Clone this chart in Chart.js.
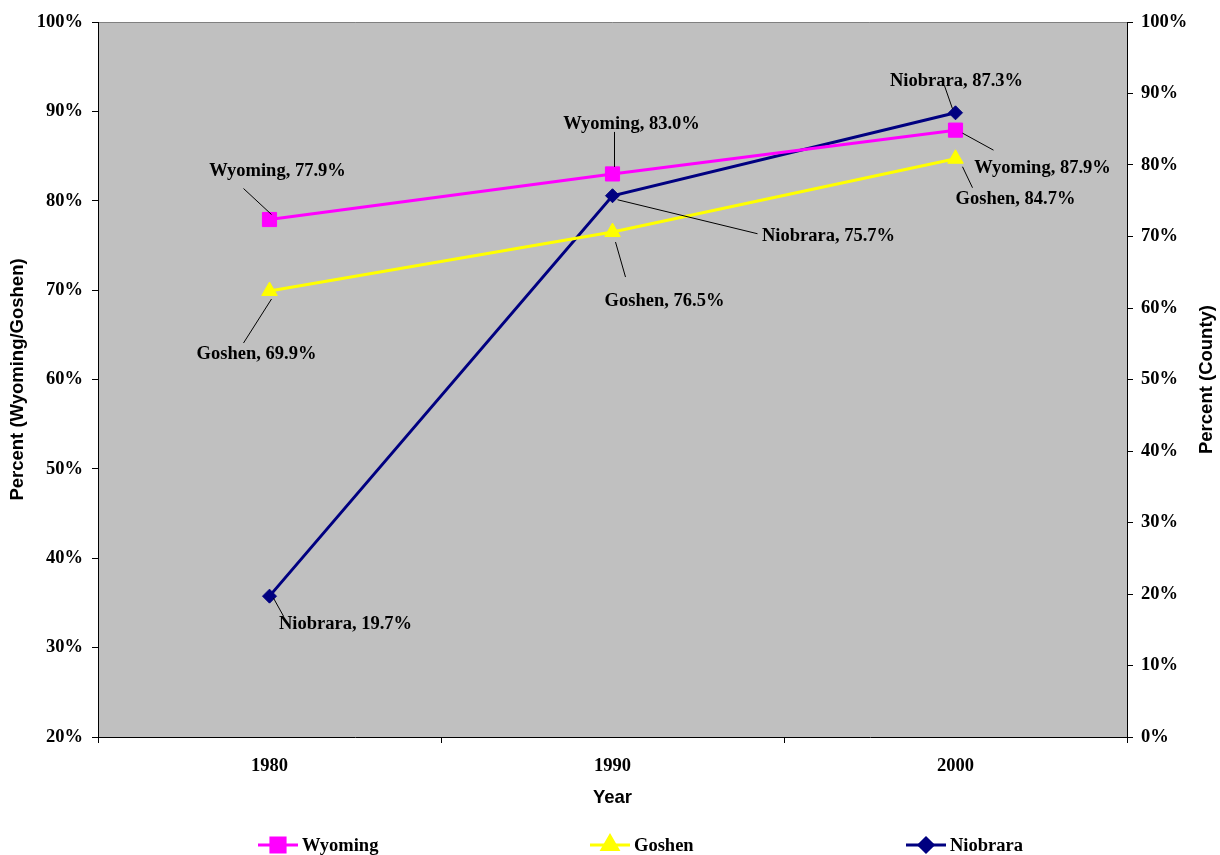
<!DOCTYPE html>
<html>
<head>
<meta charset="utf-8">
<script src="https://cdn.jsdelivr.net/npm/chart.js@4"></script>
<style>
  html, body { margin: 0; padding: 0; background: #fff; }
  #wrap { width: 1220px; height: 855px; }
</style>
</head>
<body>
<div id="wrap"><canvas id="chart" width="1220" height="855"></canvas></div>
<script>
// data
const years = ["1980", "1990", "2000"];
const wyoming = [77.9, 83.0, 87.9];
const goshen = [69.9, 76.5, 84.7];
const niobrara = [19.7, 75.7, 87.3];

// label placement: text centre offset and leader line, relative to the point
const labelPos = {
    Wyoming: [
        { dx: 8, dy: -48, line: [-26, -31, 2, -5] },
        { dx: 19, dy: -50, line: [2, -42, 2, -7] },
        { dx: 87, dy: 38, line: [7, 3, 38, 20] }
    ],
    Goshen: [
        { dx: -13, dy: 63, line: [2, 8, -26, 52] },
        { dx: 52, dy: 69, line: [3, 10, 13, 45] },
        { dx: 60, dy: 40, line: [7, 8, 17, 29] }
    ],
    Niobrara: [
        { dx: 76, dy: 28, line: [4, 2, 14, 20] },
        { dx: 216, dy: 40, line: [5, 4, 145, 38] },
        { dx: 1, dy: -32, line: [-11, -27, -3, -4] }
    ]
};

const serif = "'Liberation Serif', 'Times New Roman', serif";
const sans = "'Liberation Sans', Arial, sans-serif";
const pct = v => v + '%';

// grey plot area and the thin grey top border
const plotBg = {
    id: 'plotBg',
    beforeDraw(chart) {
        const { ctx, chartArea: a } = chart;
        ctx.save();
        ctx.fillStyle = '#C0C0C0';
        ctx.fillRect(a.left, a.top, a.right - a.left, a.bottom - a.top);
        ctx.strokeStyle = '#808080';
        ctx.lineWidth = 1;
        ctx.beginPath();
        ctx.moveTo(a.left, a.top + 0.5);
        ctx.lineTo(a.right, a.top + 0.5);
        ctx.stroke();
        ctx.restore();
    }
};

// right axis title reads bottom-to-top like the left one
const rightTitle = {
    id: 'rightTitle',
    afterDraw(chart) {
        const { ctx, chartArea: a } = chart;
        ctx.save();
        ctx.translate(1207, (a.top + a.bottom) / 2);
        ctx.rotate(-Math.PI / 2);
        ctx.font = "bold 18.5px " + sans;
        ctx.fillStyle = '#000';
        ctx.textAlign = 'center';
        ctx.textBaseline = 'middle';
        ctx.fillText('Percent (County)', 0, 0);
        ctx.restore();
    }
};

// data labels with leader lines
const dataLabels = {
    id: 'dataLabels',
    afterDatasetsDraw(chart) {
        const ctx = chart.ctx;
        ctx.save();
        ctx.font = "bold 18.5px " + serif;
        ctx.textAlign = 'center';
        ctx.textBaseline = 'middle';
        chart.data.datasets.forEach((ds, di) => {
            const meta = chart.getDatasetMeta(di);
            meta.data.forEach((pt, i) => {
                const p = labelPos[ds.label][i];
                ctx.strokeStyle = '#000';
                ctx.lineWidth = 1;
                ctx.beginPath();
                ctx.moveTo(pt.x + p.line[0], pt.y + p.line[1]);
                ctx.lineTo(pt.x + p.line[2], pt.y + p.line[3]);
                ctx.stroke();
                ctx.fillStyle = '#000';
                ctx.fillText(ds.label + ', ' + ds.data[i].toFixed(1) + '%', pt.x + p.dx, pt.y + p.dy);
            });
        });
        ctx.restore();
    }
};

// legend at the bottom: line with marker, then name
const bottomLegend = {
    id: 'bottomLegend',
    afterDraw(chart) {
        const ctx = chart.ctx;
        const xs = [258, 590, 906];
        const y = 845;
        ctx.save();
        chart.data.datasets.forEach((ds, i) => {
            const x = xs[i];
            ctx.strokeStyle = ds.borderColor;
            ctx.lineWidth = 3;
            ctx.beginPath();
            ctx.moveTo(x, y);
            ctx.lineTo(x + 40, y);
            ctx.stroke();
            ctx.fillStyle = ds.pointBackgroundColor;
            ctx.strokeStyle = ds.pointBackgroundColor;
            Chart.helpers.drawPoint(ctx, {
                pointStyle: ds.pointStyle,
                radius: ds.pointRadius,
                borderWidth: 1
            }, x + 20, y);
            ctx.fillStyle = '#000';
            ctx.font = "bold 18.5px " + serif;
            ctx.textAlign = 'left';
            ctx.textBaseline = 'middle';
            ctx.fillText(ds.label, x + 44, y + 1);
        });
        ctx.restore();
    }
};

function series(label, data, color, style, radius, axis) {
    return {
        label: label,
        data: data,
        yAxisID: axis,
        borderColor: color,
        backgroundColor: color,
        pointBackgroundColor: color,
        pointBorderColor: color,
        pointBorderWidth: 1,
        pointStyle: style,
        pointRadius: radius,
        borderWidth: 3,
        tension: 0,
        fill: false
    };
}

new Chart(document.getElementById('chart').getContext('2d'), {
    type: 'line',
    data: {
        labels: years,
        datasets: [
            series('Wyoming', wyoming, '#FF00FF', 'rect', 10, 'y'),
            series('Goshen', goshen, '#FFFF00', 'triangle', 9, 'y'),
            series('Niobrara', niobrara, '#000080', 'rectRot', 7, 'y1')
        ]
    },
    options: {
        responsive: false,
        animation: false,
        layout: { padding: { top: 22, bottom: 38, left: 0, right: 0 } },
        plugins: {
            legend: { display: false },
            tooltip: { enabled: false }
        },
        scales: {
            x: {
                offset: true,
                afterFit: s => { s.height = 80; },
                grid: { display: true, offset: true, drawOnChartArea: false, tickLength: 6, color: '#000' },
                border: { color: '#000', width: 1 },
                ticks: { color: '#000', padding: 12, font: { family: serif, size: 18.5, weight: 'bold' } },
                title: {
                    display: true, text: 'Year', color: '#000',
                    padding: { top: 0, bottom: 8 },
                    font: { family: sans, size: 18.5, weight: 'bold' }
                }
            },
            y: {
                position: 'left',
                min: 20, max: 100,
                afterFit: s => { s.width = 98; },
                grid: { drawOnChartArea: false, tickLength: 6, color: '#000' },
                border: { color: '#000', width: 1 },
                ticks: { stepSize: 10, padding: 9, color: '#000', callback: pct, font: { family: serif, size: 18.5, weight: 'bold' } },
                title: {
                    display: true, text: 'Percent (Wyoming/Goshen)', color: '#000',
                    padding: { top: 7, bottom: 0 },
                    font: { family: sans, size: 18.5, weight: 'bold' }
                }
            },
            y1: {
                position: 'right',
                min: 0, max: 100,
                afterFit: s => { s.width = 93; },
                grid: { drawOnChartArea: false, tickLength: 6, color: '#000' },
                border: { color: '#000', width: 1 },
                ticks: { stepSize: 10, padding: 8, color: '#000', callback: pct, font: { family: serif, size: 18.5, weight: 'bold' } },
                title: { display: false }
            }
        }
    },
    plugins: [plotBg, dataLabels, rightTitle, bottomLegend]
});
</script>
</body>
</html>
